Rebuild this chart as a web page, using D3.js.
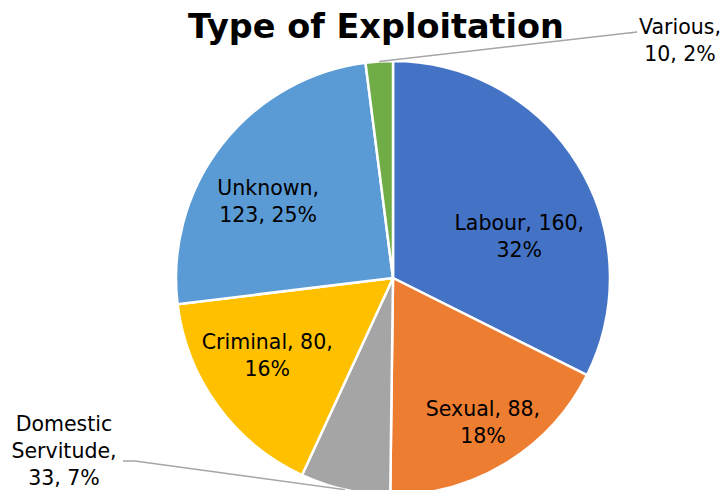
<!DOCTYPE html>
<html>
<head>
<meta charset="utf-8">
<script src="https://cdn.jsdelivr.net/npm/d3@7"></script>
<style>
  html, body { margin: 0; padding: 0; background: #fff; }
  svg { display: block; }
</style>
</head>
<body>
<svg id="chart" width="727" height="490"></svg>
<script>
// ---- data ----
const categories = ["Labour", "Sexual", "Domestic Servitude", "Criminal", "Unknown", "Various"];
const values = [160, 88, 33, 80, 123, 10];
const percentLabels = ["32%", "18%", "7%", "16%", "25%", "2%"];
const labelLines = [
  ["Labour, 160,", "32%"],
  ["Sexual, 88,", "18%"],
  ["Domestic", "Servitude,", "33, 7%"],
  ["Criminal, 80,", "16%"],
  ["Unknown,", "123, 25%"],
  ["Various,", "10, 2%"]
];
const colors = ["#4472C4", "#ED7D31", "#A5A5A5", "#FFC000", "#5B9BD5", "#70AD47"];
const title = "Type of Exploitation";

// ---- layout (styling, not data) ----
const W = 727, H = 490;
const cx = 393, cy = 278, R = 217;
const fontFamily = "Tahoma, 'DejaVu Sans', Verdana, sans-serif";
const labelSize = 20.5, lineH = 27;
// inside labels: nudge from centroid; outside labels: anchor offset from pie centre
const labelLayout = [
  { inside: true, dx: -3, dy: 38 },
  { inside: true, dx: 11, dy: 14 },
  { inside: false, ax: -329, ay: 173, lx: -258, ly: 183, ex: -270, ey: 183 },
  { inside: true, dx: -3, dy: -12 },
  { inside: true, dx: -5, dy: 16 },
  { inside: false, ax: 287, ay: -238, lx: 244, ly: -246, ex: 237, ey: -245 }
];

const svg = d3.select("#chart");

// title
svg.append("text")
  .attr("x", 376)
  .attr("y", 38)
  .attr("text-anchor", "middle")
  .attr("font-family", "'DejaVu Sans', sans-serif")
  .attr("font-weight", "bold")
  .attr("font-size", 33.5)
  .attr("fill", "#000")
  .text(title);

const pie = d3.pie().value(d => d).sort(null);
const arcs = pie(values);
const arc = d3.arc().innerRadius(0).outerRadius(R);
const labelArc = d3.arc().innerRadius(R * 0.7).outerRadius(R * 0.7);
const edgeArc = d3.arc().innerRadius(R).outerRadius(R);

const g = svg.append("g").attr("transform", `translate(${cx},${cy})`);

g.selectAll("path.slice")
  .data(arcs)
  .enter().append("path")
  .attr("class", "slice")
  .attr("d", arc)
  .attr("fill", (d, i) => colors[i])
  .attr("stroke", "#fff")
  .attr("stroke-width", 2.5)
  .attr("stroke-linejoin", "round");

// leader lines for outside labels
arcs.forEach((d, i) => {
  const L = labelLayout[i];
  if (L.inside) return;
  const [px, py] = edgeArc.centroid(d);
  g.append("polyline")
    .attr("points", [[px, py], [L.lx, L.ly], [L.ex, L.ey]].map(p => p.join(",")).join(" "))
    .attr("fill", "none")
    .attr("stroke", "#A6A6A6")
    .attr("stroke-width", 1.5);
});

// labels
arcs.forEach((d, i) => {
  const L = labelLayout[i];
  let x, y;
  if (L.inside) {
    const c = labelArc.centroid(d);
    x = c[0] + L.dx; y = c[1] + L.dy;
  } else {
    x = L.ax; y = L.ay;
  }
  const lines = labelLines[i];
  const t = g.append("text")
    .attr("text-anchor", "middle")
    .attr("font-family", fontFamily)
    .attr("font-size", labelSize)
    .attr("fill", "#000");
  const firstBase = y - (lines.length - 1) * lineH / 2 + labelSize * 0.36;
  lines.forEach((ln, k) => {
    t.append("tspan")
      .attr("x", x)
      .attr("y", firstBase + k * lineH)
      .text(ln);
  });
});
</script>
</body>
</html>
